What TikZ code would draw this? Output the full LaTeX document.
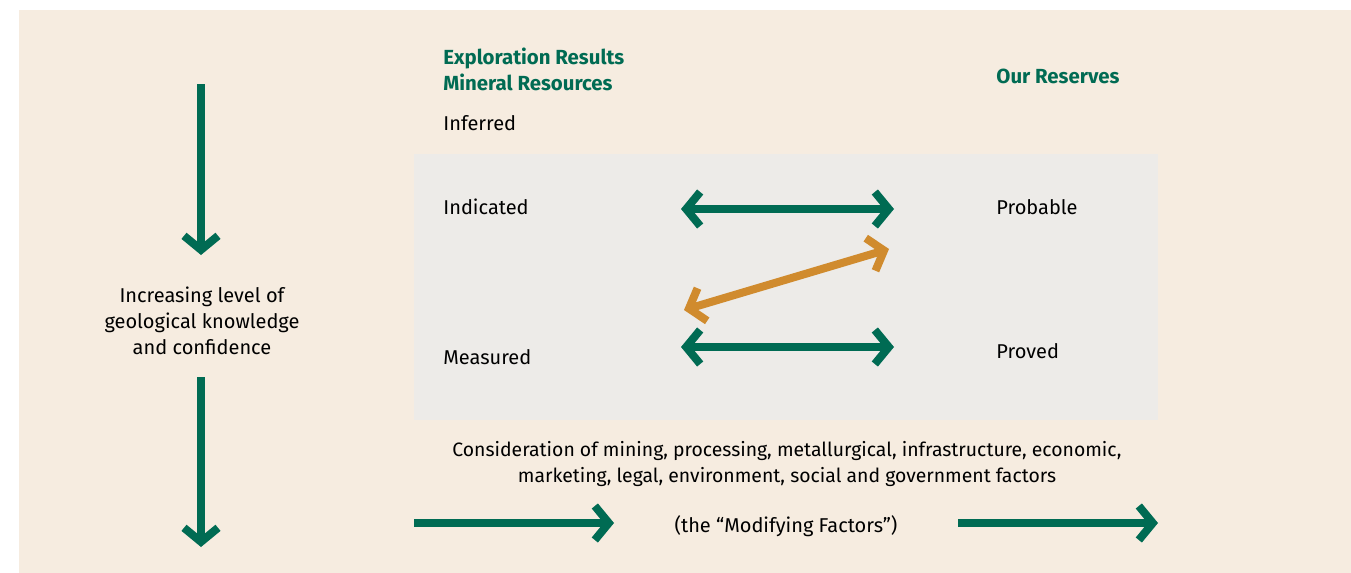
\documentclass[tikz,border=0pt]{standalone}
\usepackage{fontspec}
\setmainfont{Fira Sans}
\usetikzlibrary{arrows.meta}
\definecolor{bgbeige}{HTML}{F6ECE0}
\definecolor{boxgray}{HTML}{EDEBE8}
\definecolor{dkgreen}{HTML}{006B53}
\definecolor{ochre}{HTML}{D08B2E}
\tikzset{
  lbl/.style={anchor=west, inner sep=0pt, font=\fontsize{10}{13}\selectfont},
  head/.style={lbl, text=dkgreen, font=\fontsize{10.2}{13}\selectfont\bfseries, align=left},
  mid/.style={inner sep=0pt, align=center, font=\fontsize{10}{13}\selectfont},
  arr/.style={line width=4pt, draw=dkgreen, -{Straight Barb[length=7pt,width=17pt]}},
  dblarr/.style={arr, {Straight Barb[length=7pt,width=17pt]}-{Straight Barb[length=7pt,width=17pt]}},
}
\begin{document}
\begin{tikzpicture}[x=0.5pt, y=-0.5pt]
                \useasboundingbox (0,0) rectangle (1351,573);
                \fill [bgbeige] (19,10) rectangle (1351,573);
                \fill [boxgray] (414,154) rectangle (1158,420);
                % headings
                \node[head] (expl) at (443,69) {Exploration Results\\Mineral Resources};
                \node[head] (ours) at (996,76) {Our Reserves};
                % categories
                \node[lbl] (inf) at (443,123) {Inferred};
                \node[lbl] (ind) at (443,207) {Indicated};
                \node[lbl] (mea) at (443,357) {Measured};
                \node[lbl] (prb) at (996,207) {Probable};
                \node[lbl] (prv) at (996,351) {Proved};
                % left side
                \node[mid] (conf) at (202,321) {Increasing level of\\geological knowledge\\and confidence};
                \coordinate (la) at (201,84);
                \coordinate (lb) at (201,255);
                \coordinate (lc) at (201,377);
                \coordinate (ld) at (201,547);
                \draw[arr] (la) -- (lb);
                \draw[arr] (lc) -- (ld);
                % conversion arrows
                \coordinate (ia) at (681,209);
                \coordinate (ib) at (894,209);
                \coordinate (ma) at (681,347);
                \coordinate (mb) at (894,347);
                \coordinate (oa) at (684,310);
                \coordinate (ob) at (889,249);
                \draw[dblarr] (ia) -- (ib);
                \draw[dblarr] (ma) -- (mb);
                \draw[dblarr, draw=ochre] (oa) -- (ob);
                % modifying factors
                \node[mid, font=\fontsize{9.7}{13}\selectfont] (cons) at (787,464) {Consideration of mining, processing, metallurgical, infrastructure, economic,\\marketing, legal, environment, social and government factors};
                \node[mid] (modf) at (786,526) {(the “Modifying Factors”)};
                \coordinate (ba) at (414,523);
                \coordinate (bb) at (614,523);
                \coordinate (bc) at (958,523);
                \coordinate (bd) at (1158,523);
                \draw[arr] (ba) -- (bb);
                \draw[arr] (bc) -- (bd);
            \end{tikzpicture}
\end{document}
